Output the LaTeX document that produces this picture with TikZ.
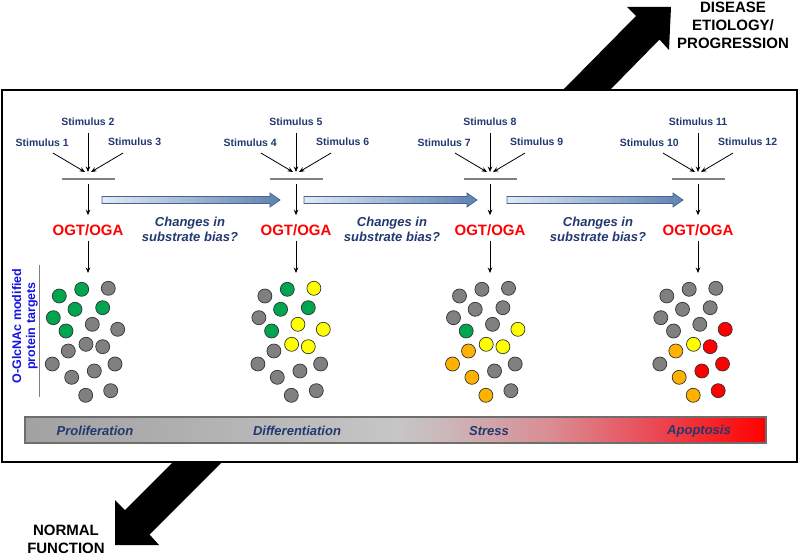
\documentclass[tikz,border=0pt]{standalone}
\usepackage{fontspec}
\setmainfont{Liberation Sans}
\usetikzlibrary{arrows.meta,calc}
\definecolor{navy}{HTML}{22386F}
\definecolor{ogtred}{HTML}{FF0000}
\definecolor{lblue}{HTML}{1414E0}
\definecolor{cK}{HTML}{808080}
\definecolor{cG}{HTML}{00A64F}
\definecolor{cY}{HTML}{FFFF00}
\definecolor{cO}{HTML}{FFB100}
\definecolor{cR}{HTML}{FF0000}
\definecolor{dotline}{HTML}{333333}
\definecolor{gaL}{HTML}{E2EAF4}
\definecolor{gaR}{HTML}{5F82B0}
\definecolor{gaD}{HTML}{45638C}
\definecolor{bA}{HTML}{A2A2A2}
\definecolor{bB}{HTML}{B0B0B0}
\definecolor{bC}{HTML}{C6C6C6}
\definecolor{bD}{HTML}{CCB6B8}
\definecolor{bE}{HTML}{D98C92}
\definecolor{bF}{HTML}{EA4D58}
\definecolor{bG}{HTML}{FF0000}
\definecolor{barline}{HTML}{6E6E6E}
\pgfdeclarehorizontalshading{barshade}{100bp}{color(0bp)=(bA); color(25bp)=(bA); color(36bp)=(bB); color(50bp)=(bC); color(53.5bp)=(bD); color(60.5bp)=(bE); color(67bp)=(bF); color(75bp)=(bG); color(100bp)=(bG)}
\begin{document}
\begin{tikzpicture}[x=1pt,y=-1pt,
  stim/.style={font=\fontsize{10.5}{12}\selectfont\bfseries, text=navy, inner sep=0pt},
  enz/.style={font=\fontsize{15}{18}\selectfont\bfseries, text=ogtred, inner sep=0pt},
  conn/.style={-{Stealth[length=5.5pt,width=4.5pt]}, line width=0.8pt},
  barmark/.style={draw=gray, line width=1.1pt},
  dot/.style={circle, minimum size=14pt, inner sep=0pt, draw=dotline, line width=0.7pt},
  changes/.style={font=\fontsize{13}{15}\selectfont\bfseries\itshape, text=navy, align=center, inner sep=0pt},
  phase/.style={font=\fontsize{13}{15}\selectfont\bfseries\itshape, text=navy, inner sep=0pt},
  bigtext/.style={font=\fontsize{15}{18}\selectfont\bfseries, align=center, inner sep=0pt},
  garrow/.style={left color=gaL, right color=gaR, draw=gaD, line width=0.7pt},
  bigarrow/.style={fill=black}
]
\useasboundingbox (0,0) rectangle (800,556);

% big black arrows
\fill[bigarrow] (563,90) -- (636,16) -- (627,7) -- (671,7) -- (669,50) -- (659.5,39.5) -- (610,90) -- cycle;
\fill[bigarrow] (173,462) -- (125,510) -- (115,500) -- (115,545) -- (159,545) -- (149.5,534.5) -- (222,462) -- cycle;
\node[bigtext, anchor=north] (dis) at (733,2) {DISEASE\\ETIOLOGY/\\PROGRESSION};
\node[bigtext, anchor=south] (norm) at (66,554) {NORMAL\\FUNCTION};

% frame
\draw[line width=1.8pt] (2,90) rectangle (797,462);

% stimulus groups
\foreach \g/\c/\n in {1/88/1,2/296/4,3/490/7,4/698/10}{
  \pgfmathtruncatemacro\nb{\n+1}
  \pgfmathtruncatemacro\nc{\n+2}
  \node[stim] (sT\g) at (\c,122) {Stimulus \nb};
  \node[stim,anchor=east] (sL\g) at (\c-19,143) {Stimulus \n};
  \node[stim,anchor=west] (sR\g) at (\c+20,142) {Stimulus \nc};
  \coordinate (j\g) at (\c,172);
  \coordinate (bl\g) at (\c-26,179);
  \coordinate (br\g) at (\c+27,179);
  \node[enz] (e\g) at (\c,230) {OGT/OGA};
  \coordinate (t\g) at (\c,273);
  \draw[conn] ($(sT\g.south)+(0,7)$) -- (j\g);
  \draw[conn] ($(sL\g.south east)+(-16,6)$) -- ($(j\g)+(-3,0)$);
  \draw[conn] ($(sR\g.south west)+(15,7)$) -- ($(j\g)+(3,0)$);
  \draw[barmark] (bl\g) -- (br\g);
  \draw[conn] ($(j\g)+(0,12)$) -- ($(e\g.north)+(0,-9)$);
  \draw[conn] ($(e\g.south)+(0,5)$) -- (t\g);
}

% gradient arrows
\foreach \k/\xa/\xb in {1/102/280,2/304/477,3/507/683}{
  \coordinate (ga\k) at (\xa,200);
  \coordinate (gb\k) at (\xb,200);
  \draw[garrow] ($(ga\k)+(0,-3.5)$) -- ($(gb\k)+(-10,-3.5)$) -- ($(gb\k)+(-10,-7)$) -- (gb\k) -- ($(gb\k)+(-10,7)$) -- ($(gb\k)+(-10,3.5)$) -- ($(ga\k)+(0,3.5)$) -- cycle;
}
\node[changes] (ch1) at (190,229.5) {Changes in\\substrate bias?};
\node[changes] (ch2) at (392,229.5) {Changes in\\substrate bias?};
\node[changes] (ch3) at (598,229.5) {Changes in\\substrate bias?};

% side label
\node[rotate=90, font=\fontsize{12.5}{14}\selectfont\bfseries, text=lblue, align=center, inner sep=0pt] (lab) at (25,326) {O-GlcNAc modified\\protein targets};
\coordinate (vt) at (39,265);
\coordinate (vb) at (39,397);
\draw[gray, line width=0.9pt] (vt) -- (vb);

% dots
\def\PX{{59.3,81.7,108.3,53.3,75,102.7,66,92.3,117.7,68.3,86,102.7,52.3,71.7,94.3,115,85.7,110.7}}
\def\PY{{296,289.3,288.3,317.7,309.3,307.7,331,324.3,329.3,351,344.3,346.7,364,377.3,371,364,395.3,390.7}}
\foreach \g/\dx/\cl in {1/0/{G,G,K,G,G,G,G,K,K,K,K,K,K,K,K,K,K,K},
                        2/205.6/{K,G,Y,K,G,G,G,Y,Y,K,Y,Y,K,K,K,K,K,K},
                        3/400.2/{K,K,K,K,K,K,G,K,Y,O,Y,Y,O,O,K,K,O,K},
                        4/607.5/{K,K,K,K,K,K,K,K,R,O,Y,R,K,O,R,R,O,R}}{
  \foreach \cc [count=\i from 0] in \cl {
    \pgfmathsetmacro\px{\PX[\i]+\dx}
    \pgfmathsetmacro\py{\PY[\i]}
    \node[dot, fill=c\cc] (d\g-\i) at (\px,\py) {};
  }
}

% bottom bar
\path[shade, shading=barshade, draw=barline, line width=1.1pt] (25,417) rectangle (766,443);
\node[phase] (p1) at (95,431) {Proliferation};
\node[phase] (p2) at (297,431) {Differentiation};
\node[phase] (p3) at (489,431) {Stress};
\node[phase] (p4) at (699,431) {Apoptosis};
\end{tikzpicture}
\end{document}
